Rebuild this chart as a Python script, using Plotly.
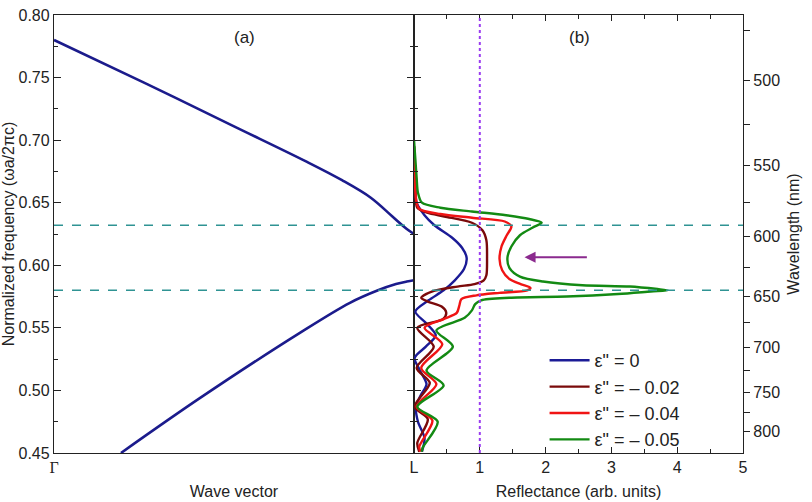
import plotly.graph_objects as go

# ---- photonic band structure, Gamma (0) -> L (1) ----
band_up_k = [0.0, 0.25, 0.5, 0.7, 0.8, 0.88, 0.94, 0.98, 1.0]
band_up_f = [0.780, 0.746, 0.711, 0.683, 0.668, 0.654, 0.639, 0.629, 0.625]
band_lo_k = [0.186, 0.406, 0.683, 0.822, 0.9, 0.95, 0.98, 1.0]
band_lo_f = [0.450, 0.494, 0.546, 0.570, 0.580, 0.585, 0.587, 0.588]

# ---- reflectance spectra (reflectance, normalized frequency) ----
r0_f = [0.695, 0.675, 0.660, 0.650, 0.640, 0.632, 0.622, 0.614, 0.606, 0.597, 0.588, 0.580,
        0.572, 0.563, 0.554, 0.544, 0.535, 0.526, 0.516, 0.505, 0.496, 0.487, 0.475, 0.462, 0.451]
r0_R = [0.00, 0.01, 0.02, 0.04, 0.16, 0.31, 0.58, 0.73, 0.80, 0.76, 0.62, 0.45,
        0.22, 0.02, 0.18, 0.33, 0.18, 0.01, 0.09, 0.19, 0.10, 0.03, 0.06, 0.16, 0.12]

r02_f = [0.695, 0.675, 0.660, 0.650, 0.646, 0.642, 0.639, 0.634, 0.628, 0.620, 0.605, 0.592,
         0.588, 0.585, 0.583, 0.579, 0.574, 0.571, 0.567, 0.562, 0.557, 0.550, 0.535, 0.518,
         0.506, 0.487, 0.477, 0.458, 0.451]
r02_R = [0.00, 0.01, 0.02, 0.03, 0.05, 0.20, 0.46, 0.88, 1.04, 1.10, 1.11, 1.10,
         1.06, 0.92, 0.66, 0.27, 0.11, 0.21, 0.42, 0.49, 0.44, 0.05, 0.30, 0.04,
         0.24, 0.01, 0.21, 0.05, 0.08]

r04_f = [0.695, 0.675, 0.660, 0.650, 0.645, 0.641, 0.638, 0.635, 0.631, 0.624, 0.615, 0.605,
         0.596, 0.589, 0.585, 0.582, 0.580, 0.578, 0.576, 0.573, 0.568, 0.562, 0.557, 0.550,
         0.537, 0.518, 0.505, 0.487, 0.476, 0.455, 0.451]
r04_R = [0.00, 0.01, 0.02, 0.04, 0.08, 0.40, 0.88, 1.38, 1.48, 1.41, 1.33, 1.30,
         1.34, 1.45, 1.62, 1.77, 1.72, 1.30, 0.95, 0.72, 0.69, 0.65, 0.45, 0.16,
         0.43, 0.11, 0.34, 0.04, 0.28, 0.08, 0.10]

r05_f = [0.700, 0.685, 0.670, 0.658, 0.650, 0.646, 0.643, 0.640, 0.637, 0.634, 0.630, 0.624,
         0.615, 0.606, 0.598, 0.591, 0.587, 0.584, 0.583, 0.581, 0.580, 0.579, 0.577, 0.575,
         0.574, 0.572, 0.569, 0.564, 0.558, 0.548, 0.535, 0.516, 0.504, 0.487, 0.475, 0.454, 0.451]
r05_R = [0.00, 0.02, 0.04, 0.06, 0.12, 0.40, 0.88, 1.40, 1.75, 1.94, 1.80, 1.61,
         1.48, 1.42, 1.45, 1.61, 1.96, 2.56, 3.28, 3.70, 3.86, 3.60, 3.10, 2.32,
         1.45, 1.02, 0.93, 0.88, 0.77, 0.34, 0.59, 0.19, 0.45, 0.05, 0.36, 0.13, 0.12]

series_names = ['ε" = 0', 'ε" = – 0.02', 'ε" = – 0.04', 'ε" = – 0.05']
series_colors = ["#1b1b96", "#7a0a0a", "#f01414", "#138a13"]

# band-edge frequencies and wavelength scale (lattice constant in nm)
gap_edges = [0.632, 0.580]
lattice_a = 374.0
wl_major = [500, 550, 600, 650, 700, 750, 800]
wl_minor = [475, 525, 575, 625, 675, 725, 775]

FONT = "Liberation Sans, Arial, sans-serif"
BAND = "#1b1b8c"

fig = go.Figure()

fig.add_trace(go.Scatter(x=band_up_k, y=band_up_f, mode="lines", line=dict(color=BAND, width=2.6, shape="spline"),
                         xaxis="x", yaxis="y", showlegend=False))
fig.add_trace(go.Scatter(x=band_lo_k, y=band_lo_f, mode="lines", line=dict(color=BAND, width=2.6, shape="spline"),
                         xaxis="x", yaxis="y", showlegend=False))

for R, f, name, col in zip([r0_R, r02_R, r04_R, r05_R], [r0_f, r02_f, r04_f, r05_f], series_names, series_colors):
    fig.add_trace(go.Scatter(x=R, y=f, mode="lines", name=name,
                             line=dict(color=col, width=2.4, shape="spline", smoothing=0.8),
                             xaxis="x2", yaxis="y2"))

split = 360 / 689
tickfont = dict(family=FONT, size=16, color="#222")
common_y = dict(range=[0.45, 0.80], showline=True, linecolor="#222", linewidth=1.3, showgrid=False,
                zeroline=False, automargin=False)

wl_vals = [lattice_a / w for w in wl_major + wl_minor]
wl_text = [str(w) for w in wl_major] + [""] * len(wl_minor)

fig.update_layout(
    width=812, height=502,
    margin=dict(l=54, r=69, t=15, b=49),
    paper_bgcolor="white", plot_bgcolor="white",
    font=dict(family=FONT, size=16, color="#222"),
    xaxis=dict(domain=[0, split], range=[0, 1], anchor="y", showline=True, mirror=True, automargin=False,
               linecolor="#222", linewidth=1.3, showgrid=False, zeroline=False,
               tickvals=[0], ticktext=['<span style="font-family:Liberation Serif">Γ</span>'], ticks="",
               tickfont=tickfont,
               title=dict(text="Wave vector", font=dict(family=FONT, size=16), standoff=10)),
    yaxis=dict(**common_y, domain=[0, 1], anchor="x", dtick=0.05, tickformat=".2f",
               ticks="inside", ticklen=7, tickcolor="#222", mirror="ticks",
               minor=dict(dtick=0.025, ticks="inside", ticklen=4, tickcolor="#222"),
               tickfont=tickfont,
               title=dict(text="Normalized frequency (ωa/2πc)", font=dict(family=FONT, size=16), standoff=8)),
    xaxis2=dict(domain=[split, 1], range=[0, 5], anchor="y2", showline=True, mirror="ticks", automargin=False,
                linecolor="#222", linewidth=1.3, showgrid=False, zeroline=False,
                tickvals=[0, 1, 2, 3, 4, 5], ticktext=["L", "1", "2", "3", "4", "5"],
                ticks="inside", ticklen=6, tickcolor="#222",
                minor=dict(dtick=0.5, ticks="inside", ticklen=4, tickcolor="#222"),
                tickfont=tickfont,
                title=dict(text="Reflectance (arb. units)", font=dict(family=FONT, size=16), standoff=10)),
    yaxis2=dict(**common_y, domain=[0, 1], anchor="x2", showticklabels=False, dtick=0.05,
                ticks="inside", ticklen=7, tickcolor="#222",
                minor=dict(dtick=0.025, ticks="inside", ticklen=4, tickcolor="#222")),
    yaxis3=dict(**common_y, overlaying="y2", anchor="x2", side="right",
                tickvals=wl_vals, ticktext=wl_text, ticks="outside", ticklen=6, tickcolor="#222",
                tickfont=tickfont,
                title=dict(text="Wavelength (nm)", font=dict(family=FONT, size=16), standoff=8)),
    legend=dict(x=0.712, y=0.2534, xanchor="left", yanchor="top", bgcolor="rgba(0,0,0,0)",
                font=dict(family=FONT, size=18, color="#222"), itemwidth=40, tracegroupgap=0),
)

# dummy trace so the wavelength axis is drawn
fig.add_trace(go.Scatter(x=[None], y=[None], xaxis="x2", yaxis="y3", showlegend=False))

# band-edge guides across both panels
for fe in gap_edges:
    fig.add_shape(type="line", xref="paper", x0=0, x1=1, yref="y", y0=fe, y1=fe,
                  line=dict(color="#2f9393", width=1.6, dash="dash"))

# unit-reflectance reference
fig.add_shape(type="line", xref="x2", x0=1, x1=1, yref="y2", y0=0.45, y1=0.80,
              line=dict(color="#9a3cf0", width=2, dash="dot"))

# panel labels
fig.add_annotation(text="(a)", xref="x", x=0.53, yref="y", y=0.782, showarrow=False,
                   font=dict(family=FONT, size=17, color="#222"))
fig.add_annotation(text="(b)", xref="x2", x=2.52, yref="y2", y=0.782, showarrow=False,
                   font=dict(family=FONT, size=17, color="#222"))

# shift of the reflectance band
fig.add_annotation(x=1.68, y=0.6065, ax=2.65, ay=0.6065, xref="x2", yref="y2", axref="x2", ayref="y2",
                   showarrow=True, arrowhead=2, arrowsize=1.1, arrowwidth=2, arrowcolor="#8b2a8e", text="")

fig.write_html("out.html")
